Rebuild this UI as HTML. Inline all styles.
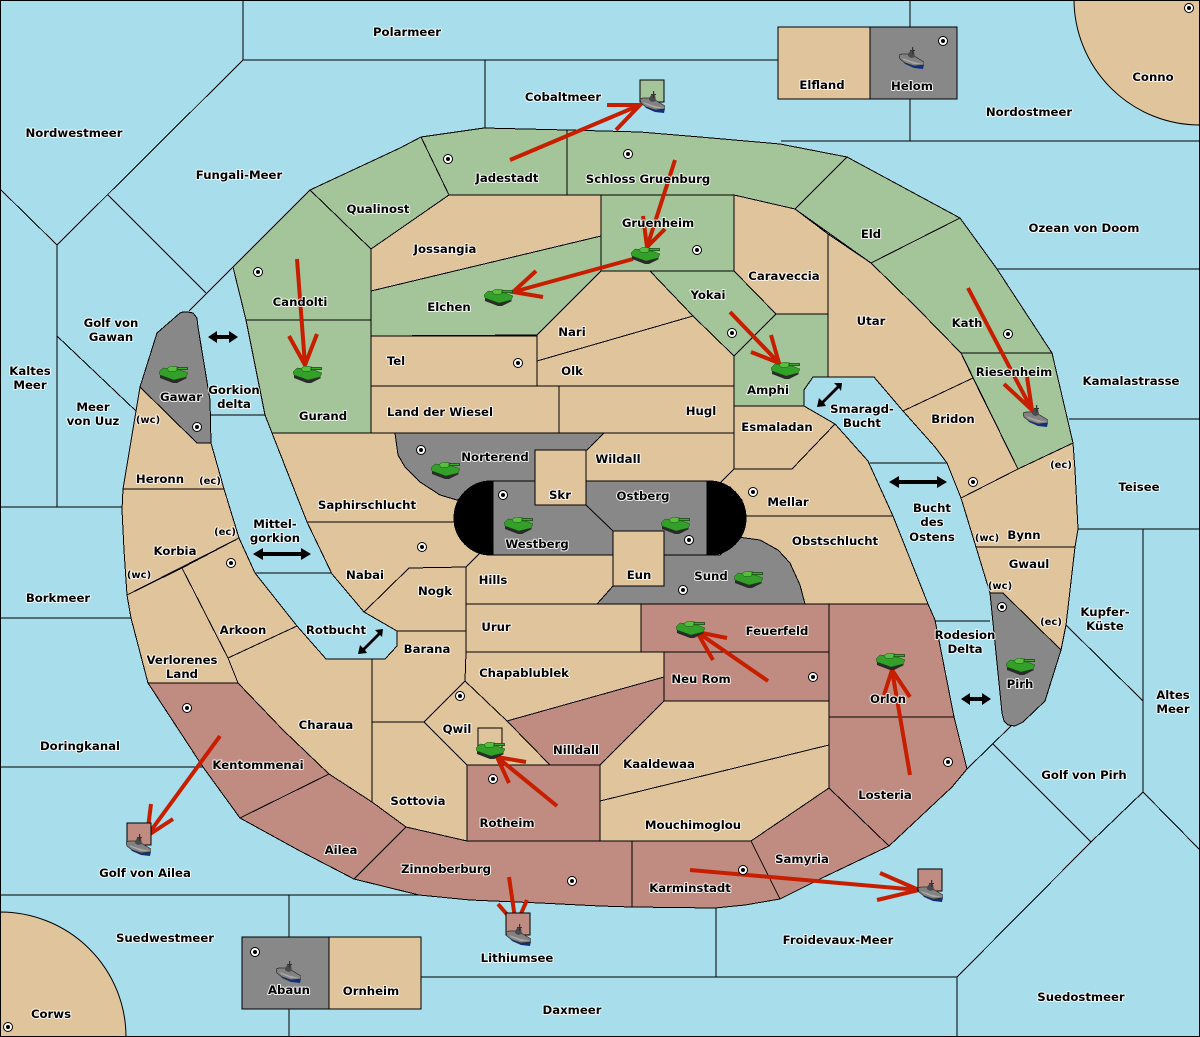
<!DOCTYPE html>
<html><head><meta charset="utf-8"><title>Map</title>
<style>
html,body{margin:0;padding:0;background:#a8ddeb;width:1200px;height:1037px;overflow:hidden}
svg{display:block;overflow:hidden}
.m polygon,.m rect,.m circle{stroke:#000;stroke-width:1}
.l{stroke:#000;stroke-width:1;fill:none}
.t{fill:#e0c49c}.g{fill:#a4c49a}.r{fill:#c08c82}.y{fill:#888}
.arr{stroke:#c81e00;stroke-width:4;fill:none;stroke-linejoin:miter}
text{font-family:"DejaVu Sans","Liberation Sans",sans-serif;font-weight:bold;font-size:11.7px;fill:#000;text-anchor:middle;stroke:#fff;stroke-opacity:.85;stroke-width:2px;paint-order:stroke;stroke-linejoin:round}
text.s{font-size:10px}
</style></head><body>
<svg width="1200" height="1037" viewBox="0 0 1200 1037" xmlns="http://www.w3.org/2000/svg">
<defs>
<symbol id="tank" viewBox="0 0 29 17" width="29" height="17">
<polygon points="1,9 15,14 27,11 28,12 18,17 14,17 1,12" fill="#2a2a2a"/>
<polygon points="0,6 4,2 21,4 29,7 27,11 15,14 1,9" fill="#33a02a" stroke="#14500f" stroke-width=".5"/>
<polygon points="8,2.5 12,0 19,1 20,3 16,5.5 10,5.5" fill="#57bd3e" stroke="#14500f" stroke-width=".5"/>
<rect x="18" y="1.5" width="10.5" height="2.2" fill="#3fa52e" stroke="#0f3f0c" stroke-width=".7"/>
</symbol>
<symbol id="ship" viewBox="0 0 25 22" width="25" height="22">
<polygon points="0,10 6,17 15,21 24,22 25,17 14,16 2,10" fill="#10307f"/>
<polygon points="0,8 3,7 9,7 15,9 25,15 25,18 15,19 6,16 1,12" fill="#828282" stroke="#2c2c2c" stroke-width=".7"/>
<polygon points="9,7 12,3 15,4 16,10 12,11 9,9" fill="#4a4a4a"/>
<rect x="13" y="0" width="1.2" height="7" fill="#333"/>
<rect x="11" y="3" width="5" height="1" fill="#333"/>
<polygon points="3,11 15,15 24,17 15,17 5,13" fill="#a8a8a8"/>
</symbol>
</defs>
<rect x="0" y="0" width="1200" height="1037" fill="#a8ddeb"/>
<g class="l" shape-rendering="crispEdges">
<path d="M243 0V60H778M485 60V128M243 60L57 245L0 189M57 245V507M108 195L206 293M233 267L189 311M57 336L136 411M0 507H123M0 618H131M0 767H204M0 895H420M289 895V1037M211 415H265M255 573H332M910 0V141M781 141H1200M997 269H1200M1069 419H1200M1078 529H1200M1143 529V792M1066 625L1143 701M870 463H947M935 621H990M1012 725L967 769M993 744L1091 842M1143 792L1091 842L957 977V1037M1143 792L1200 850M421 977H957M716 908V977"/>
</g>
<path d="M1074 0A126 126 0 0 0 1200 125V0Z" class="t" stroke="#000" stroke-width="1"/>
<path d="M0 912A126 125 0 0 1 126 1037H0Z" class="t" stroke="#000" stroke-width="1"/>
<g class="m" shape-rendering="crispEdges">
<polygon class="g" points="233,267 310,190 371,249 371,320 246,320"/>
<polygon class="g" points="246,320 371,320 371,433 272,433 265,415"/>
<polygon class="g" points="310,190 400,148 421,137 449,195 371,249"/>
<polygon class="g" points="421,137 484,128 567,130 567,195 449,195"/>
<polygon class="g" points="567,130 640,132 700,137 780,144 847,157 795,209 734,195 567,195"/>
<polygon class="g" points="847,157 960,218 871,263 795,209"/>
<polygon class="g" points="960,218 997,269 1052,353 961,353 917,308 871,263"/>
<polygon class="g" points="961,353 1052,353 1073,443 1018,469"/>
<polygon class="g" points="601,195 734,195 734,271 601,271"/>
<polygon class="g" points="371,291 601,236 601,271 537,335 371,336"/>
<polygon class="g" points="650,271 734,271 776,314 734,356 693,316"/>
<polygon class="g" points="776,314 828,314 828,377 813,377 804,390 804,406 734,406 734,356"/>
<polygon class="t" points="449,195 601,195 601,236 371,291 371,249"/>
<polygon class="t" points="734,195 795,209 828,234 828,314 776,314 734,271"/>
<polygon class="t" points="828,234 871,263 917,308 961,353 973,378 903,411 874,377 828,377"/>
<polygon class="t" points="903,411 973,378 1018,469 961,498 947,463 935,447"/>
<polygon class="t" points="1018,469 1073,443 1075,470 1078,529 1075,547 976,547 961,498"/>
<polygon class="t" points="976,547 1075,547 1066,625 1061,650 1003,593 990,593"/>
<polygon class="t" points="371,336 537,336 537,386 371,386"/>
<polygon class="t" points="371,386 559,386 559,433 371,433"/>
<polygon class="t" points="559,386 734,386 734,433 559,433"/>
<polygon class="t" points="537,361 693,316 734,356 734,386 537,386"/>
<polygon class="t" points="537,335 601,271 650,271 693,316 537,361"/>
<polygon class="t" points="734,406 804,406 835,424 792,469 734,469"/>
<polygon class="t" points="604,433 734,433 734,469 720,483 586,483 586,450"/>
<polygon class="t" points="734,469 792,469 835,424 868,461 893,516 745,516 742,500 730,487 720,483"/>
<polygon class="t" points="745,516 893,516 928,604 805,604 800,585 790,563 778,550 760,540 738,537"/>
<polygon class="t" points="272,433 395,433 398,455 405,467 420,482 440,495 460,501 458,522 307,522"/>
<polygon class="t" points="307,522 457,522 463,540 480,553 466,567 409,568 364,612 332,574"/>
<polygon class="t" points="409,568 466,567 466,631 397,631 364,612"/>
<polygon class="t" points="397,631 466,631 466,681 424,722 372,722 372,659 385,659 397,646"/>
<polygon class="t" points="493,555 613,555 613,586 597,604 466,604 466,567 480,553"/>
<polygon class="t" points="466,604 641,604 641,652 466,652"/>
<polygon class="t" points="466,652 664,652 664,677 507,721 465,681"/>
<polygon class="t" points="465,681 507,721 550,765 467,765 424,722"/>
<polygon class="t" points="372,722 424,722 467,765 467,841 406,827 372,802"/>
<polygon class="t" points="664,701 829,701 829,745 600,801 600,765"/>
<polygon class="t" points="600,801 829,745 829,788 751,841 600,841"/>
<polygon class="t" points="140,387 197,443 211,443 224,489 123,489 130,447"/>
<polygon class="t" points="123,489 224,489 239,538 127,595 124,550 122,510"/>
<polygon class="t" points="182,568 239,538 255,573 297,626 228,658"/>
<polygon class="t" points="127,595 182,568 228,658 238,683 148,683 131,618"/>
<polygon class="t" points="228,658 297,626 326,659 372,659 372,802 329,774 283,730 238,683"/>
<polygon class="r" points="641,604 829,604 829,652 641,652"/>
<polygon class="r" points="664,652 829,652 829,701 664,701"/>
<polygon class="r" points="829,604 928,604 935,620 954,717 829,717"/>
<polygon class="r" points="829,717 954,717 967,769 952,787 889,846 829,788"/>
<polygon class="r" points="751,841 829,788 889,846 822,878 780,899"/>
<polygon class="r" points="632,841 751,841 780,899 745,905 715,908 632,907"/>
<polygon class="r" points="354,879 406,827 467,841 632,841 632,907 600,906 540,903 470,900 419,895"/>
<polygon class="r" points="467,765 600,765 600,841 467,841"/>
<polygon class="r" points="507,721 664,677 664,701 600,765 550,765"/>
<polygon class="r" points="240,818 329,774 372,802 406,827 354,879 300,851"/>
<polygon class="r" points="148,683 238,683 283,730 329,774 240,818 203,767"/>
<polygon class="y" points="157,333 180,313 183,312 188,312 193,313 197,318 198,327 210,400 211,443 197,443 140,387"/>
<polygon class="y" points="990,593 1003,593 1061,650 1045,701 1023,722 1015,726 1008,725 1004,721 1002,713"/>
<polygon class="y" points="395,433 604,433 587,450 535,450 535,481 492,481 480,490 457,500 440,495 420,482 405,467 398,455"/>
<polygon class="y" points="664,555 720,555 738,537 760,540 778,550 790,563 800,585 805,604 597,604 613,586 664,586"/>
<rect x="454" y="481" width="292" height="74" rx="37" ry="37" fill="#000"/>
<rect x="493" y="481" width="214" height="74" class="y"/>
<polygon class="t" points="535,450 586,450 586,505 535,505"/>
<polygon class="t" points="613,531 664,531 664,586 613,586"/>
</g>
<path d="M586 505L613 531" class="l"/>
<g class="m" shape-rendering="crispEdges">
<rect class="t" x="778" y="27" width="92" height="72"/>
<rect class="y" x="870" y="27" width="87" height="72"/>
<rect class="y" x="242" y="937" width="87" height="72"/>
<rect class="t" x="329" y="937" width="92" height="72"/>
</g>
<g class="arr">
<path d="M510 160L640 105M607 105L640 105L616 130"/>
<path d="M675 160L647 247M643 216L647 247L665 229"/>
<path d="M633 259L513 292M536 271L513 292L543 297"/>
<path d="M297 259L305 365M289 336L305 365L317 334"/>
<path d="M730 312L779 363M771 335L779 363L751 352"/>
<path d="M968 288L1032 410M1027 377L1032 410L1004 384"/>
<path d="M910 775L892 670M884 695L892 670L910 697"/>
<path d="M768 681L697 632M727 638L697 632L713 660"/>
<path d="M557 806L497 757M526 762L497 757L509 783"/>
<path d="M690 870L919 890M880 873L919 890L877 900"/>
<path d="M509 877L516 925M498 904L516 925L527 900"/>
<path d="M220 736L147 836M151 804L147 836L173 819"/>
</g>
<g class="m" shape-rendering="crispEdges">
<rect class="g" x="640" y="80" width="24" height="22"/>
<rect class="r" x="127" y="823" width="24" height="22"/>
<rect class="r" x="506" y="913" width="24" height="22"/>
<rect class="r" x="918" y="869" width="24" height="22"/>
<rect class="t" x="478" y="728" width="24" height="22"/>
</g>
<g fill="#000">
<polygon points="208,337 217,331 217,335 229,335 229,331 238,337 229,343 229,339 217,339 217,343"/>
<polygon points="253,554 263,548 263,552 301,552 301,548 311,554 301,560 301,556 263,556 263,560"/>
<polygon points="889,482 899,476 899,480 937,480 937,476 947,482 937,488 937,484 899,484 899,488"/>
<polygon points="961,699 970,693 970,697 982,697 982,693 991,699 982,705 982,701 970,701 970,705"/>
<path d="M358 654L360 645L363 648L378 633L375 630L383 629L382 637L380 635L365 650L367 653Z"/>
<path d="M817 407L819 398L822 401L837 386L834 383L842 383L841 391L839 388L824 403L826 406Z"/>
</g>
<use href="#tank" x="159" y="366"/>
<use href="#tank" x="293" y="366"/>
<use href="#tank" x="431" y="462"/>
<use href="#tank" x="504" y="517"/>
<use href="#tank" x="661" y="517"/>
<use href="#tank" x="734" y="571"/>
<use href="#tank" x="676" y="621"/>
<use href="#tank" x="876" y="653"/>
<use href="#tank" x="1006" y="658"/>
<use href="#tank" x="771" y="362"/>
<use href="#tank" x="631" y="247"/>
<use href="#tank" x="484" y="289"/>
<use href="#tank" x="476" y="742"/>
<use href="#ship" x="640" y="91"/>
<use href="#ship" x="899" y="47"/>
<use href="#ship" x="276" y="961"/>
<use href="#ship" x="1023" y="405"/>
<use href="#ship" x="126" y="834"/>
<use href="#ship" x="506" y="924"/>
<use href="#ship" x="918" y="880"/>
<g fill="#fff" stroke="#000" stroke-width="1">
<circle cx="448" cy="159" r="4.5"/><circle cx="628" cy="154" r="4.5"/><circle cx="697" cy="250" r="4.5"/><circle cx="258" cy="272" r="4.5"/><circle cx="518" cy="363" r="4.5"/><circle cx="421" cy="450" r="4.5"/><circle cx="503" cy="495" r="4.5"/><circle cx="689" cy="540" r="4.5"/><circle cx="753" cy="492" r="4.5"/><circle cx="422" cy="547" r="4.5"/><circle cx="231" cy="563" r="4.5"/><circle cx="197" cy="427" r="4.5"/><circle cx="732" cy="333" r="4.5"/><circle cx="1008" cy="334" r="4.5"/><circle cx="973" cy="482" r="4.5"/><circle cx="1002" cy="607" r="4.5"/><circle cx="813" cy="677" r="4.5"/><circle cx="460" cy="696" r="4.5"/><circle cx="493" cy="779" r="4.5"/><circle cx="187" cy="708" r="4.5"/><circle cx="948" cy="762" r="4.5"/><circle cx="743" cy="870" r="4.5"/><circle cx="572" cy="881" r="4.5"/><circle cx="943" cy="41" r="4.5"/><circle cx="255" cy="952" r="4.5"/><circle cx="8" cy="1027" r="4.5"/><circle cx="1189" cy="8" r="4.5"/><circle cx="683" cy="590" r="4.5"/>
</g>
<g fill="#000">
<circle cx="448" cy="159" r="2"/><circle cx="628" cy="154" r="2"/><circle cx="697" cy="250" r="2"/><circle cx="258" cy="272" r="2"/><circle cx="518" cy="363" r="2"/><circle cx="421" cy="450" r="2"/><circle cx="503" cy="495" r="2"/><circle cx="689" cy="540" r="2"/><circle cx="753" cy="492" r="2"/><circle cx="422" cy="547" r="2"/><circle cx="231" cy="563" r="2"/><circle cx="197" cy="427" r="2"/><circle cx="732" cy="333" r="2"/><circle cx="1008" cy="334" r="2"/><circle cx="973" cy="482" r="2"/><circle cx="1002" cy="607" r="2"/><circle cx="813" cy="677" r="2"/><circle cx="460" cy="696" r="2"/><circle cx="493" cy="779" r="2"/><circle cx="187" cy="708" r="2"/><circle cx="948" cy="762" r="2"/><circle cx="743" cy="870" r="2"/><circle cx="572" cy="881" r="2"/><circle cx="943" cy="41" r="2"/><circle cx="255" cy="952" r="2"/><circle cx="8" cy="1027" r="2"/><circle cx="1189" cy="8" r="2"/><circle cx="683" cy="590" r="2"/>
</g>
<g>
<text x="407" y="36">Polarmeer</text><text x="563" y="101">Cobaltmeer</text><text x="822" y="89">Elfland</text><text x="912" y="90">Helom</text><text x="1153" y="81">Conno</text><text x="1029" y="116">Nordostmeer</text><text x="74" y="137">Nordwestmeer</text><text x="239" y="179">Fungali-Meer</text><text x="378" y="213">Qualinost</text><text x="507" y="182">Jadestadt</text><text x="648" y="183">Schloss Gruenburg</text><text x="658" y="227">Gruenheim</text><text x="871" y="238">Eld</text><text x="1084" y="232">Ozean von Doom</text><text x="445" y="253">Jossangia</text><text x="784" y="280">Caraveccia</text><text x="300" y="306">Candolti</text><text x="449" y="311">Elchen</text><text x="708" y="299">Yokai</text><text x="871" y="325">Utar</text><text x="967" y="327">Kath</text>
<text x="111" y="327">Golf von</text><text x="111" y="341">Gawan</text><text x="572" y="336">Nari</text><text x="396" y="365">Tel</text><text x="572" y="375">Olk</text><text x="768" y="394">Amphi</text><text x="1014" y="376">Riesenheim</text><text x="1131" y="385">Kamalastrasse</text><text x="30" y="375">Kaltes</text><text x="30" y="389">Meer</text><text x="181" y="401">Gawar</text><text x="234" y="394">Gorkion</text><text x="234" y="408">delta</text><text x="93" y="411">Meer</text><text x="93" y="425">von Uuz</text><text x="440" y="416">Land der Wiesel</text><text x="701" y="415">Hugl</text><text x="323" y="420">Gurand</text><text x="862" y="413">Smaragd-</text><text x="862" y="427">Bucht</text><text x="953" y="423">Bridon</text><text class="s" x="148" y="423">(wc)</text><text x="777" y="431">Esmaladan</text><text x="495" y="461">Norterend</text><text x="618" y="463">Wildall</text><text class="s" x="1061" y="468">(ec)</text><text x="560" y="499">Skr</text><text x="643" y="500">Ostberg</text><text x="160" y="483">Heronn</text><text class="s" x="210" y="484">(ec)</text><text x="1139" y="491">Teisee</text><text x="788" y="506">Mellar</text><text x="367" y="509">Saphirschlucht</text>
<text x="932" y="512">Bucht</text><text x="932" y="526">des</text><text x="932" y="541">Ostens</text><text x="275" y="528">Mittel-</text><text x="275" y="542">gorkion</text><text class="s" x="225" y="535">(ec)</text><text x="1024" y="539">Bynn</text><text class="s" x="987" y="541">(wc)</text><text x="537" y="548">Westberg</text><text x="835" y="545">Obstschlucht</text><text x="175" y="555">Korbia</text><text x="1029" y="568">Gwaul</text><text x="365" y="579">Nabai</text><text class="s" x="139" y="578">(wc)</text><text x="711" y="580">Sund</text><text x="639" y="579">Eun</text><text x="493" y="584">Hills</text><text class="s" x="1000" y="589">(wc)</text><text x="435" y="595">Nogk</text><text x="58" y="602">Borkmeer</text><text x="1105" y="616">Kupfer-</text><text x="1105" y="630">Küste</text><text class="s" x="1051" y="625">(ec)</text><text x="496" y="631">Urur</text><text x="777" y="635">Feuerfeld</text><text x="336" y="634">Rotbucht</text><text x="243" y="634">Arkoon</text><text x="965" y="639">Rodesion</text><text x="965" y="653">Delta</text><text x="427" y="653">Barana</text><text x="182" y="664">Verlorenes</text><text x="182" y="678">Land</text><text x="524" y="677">Chapablublek</text><text x="701" y="683">Neu Rom</text><text x="1020" y="688">Pirh</text><text x="1173" y="699">Altes</text><text x="1173" y="713">Meer</text><text x="888" y="703">Orlon</text><text x="326" y="729">Charaua</text><text x="457" y="733">Qwil</text><text x="80" y="750">Doringkanal</text><text x="576" y="754">Nilldall</text><text x="258" y="769">Kentommenai</text><text x="659" y="768">Kaaldewaa</text><text x="1084" y="779">Golf von Pirh</text><text x="885" y="799">Losteria</text><text x="418" y="805">Sottovia</text><text x="507" y="827">Rotheim</text><text x="693" y="829">Mouchimoglou</text><text x="341" y="854">Ailea</text><text x="802" y="863">Samyria</text><text x="446" y="873">Zinnoberburg</text><text x="145" y="877">Golf von Ailea</text><text x="690" y="892">Karminstadt</text><text x="165" y="942">Suedwestmeer</text><text x="838" y="944">Froidevaux-Meer</text><text x="517" y="962">Lithiumsee</text><text x="289" y="994">Abaun</text><text x="371" y="995">Ornheim</text><text x="1081" y="1001">Suedostmeer</text><text x="572" y="1014">Daxmeer</text><text x="51" y="1018">Corws</text>
</g>
<rect x="0.5" y="0.5" width="1199" height="1036" fill="none" stroke="#000" stroke-width="1"/>
</svg>
</body></html>
